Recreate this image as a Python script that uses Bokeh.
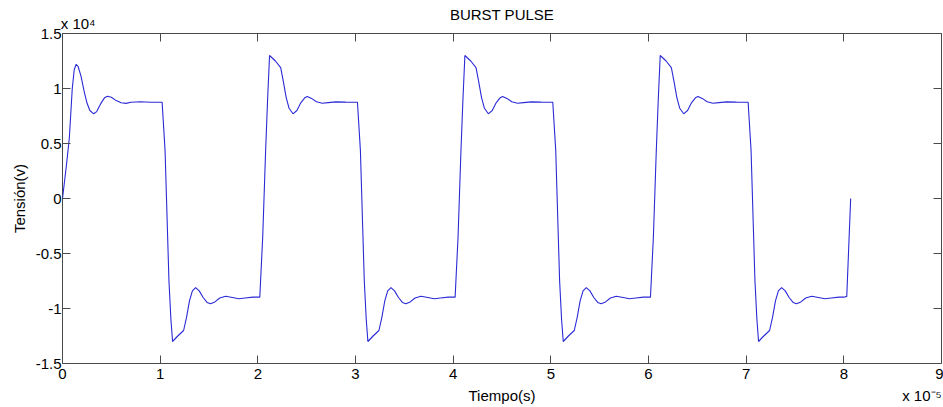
from bokeh.plotting import figure
from bokeh.models import (Range1d, LinearAxis, FixedTicker,
                          ColumnDataSource, CustomJSTickFormatter)
from bokeh.embed import file_html
from bokeh.resources import INLINE

# ---------------- data (time in 1e-5 s, voltage in 1e4 V) ----------------
x_ticks = [0, 1, 2, 3, 4, 5, 6, 7, 8, 9]
y_ticks = [-1.5, -1, -0.5, 0, 0.5, 1, 1.5]

# first (start-up) positive pulse
first_t = [0.00, 0.04, 0.07, 0.10, 0.12, 0.14, 0.16, 0.19, 0.22, 0.25, 0.28,
           0.32, 0.35, 0.39, 0.43, 0.46, 0.50, 0.55, 0.60, 0.65, 0.70, 0.80,
           0.90, 1.00]
first_v = [0.00, 0.30, 0.55, 1.00, 1.17, 1.22, 1.20, 1.11, 0.98, 0.87, 0.80,
           0.77, 0.79, 0.86, 0.915, 0.93, 0.92, 0.89, 0.87, 0.865, 0.875,
           0.88, 0.875, 0.875]

# shape of a negative half-cycle, time measured from its start
fall_dt = [0.02, 0.05, 0.09, 0.11, 0.127, 0.18, 0.24, 0.27, 0.30, 0.33,
           0.363, 0.40, 0.44, 0.48, 0.516, 0.56, 0.61, 0.67, 0.74, 0.806,
           0.87, 0.95, 1.00]
fall_v = [0.875, 0.44, -0.75, -1.10, -1.30, -1.25, -1.20, -1.08, -0.93,
          -0.84, -0.81, -0.84, -0.90, -0.945, -0.957, -0.94, -0.905, -0.888,
          -0.90, -0.912, -0.905, -0.897, -0.897]

# shape of a positive half-cycle, time measured from its start
rise_dt = [0.02, 0.05, 0.08, 0.10, 0.12, 0.18, 0.234, 0.26, 0.29, 0.32,
           0.36, 0.40, 0.44, 0.48, 0.507, 0.55, 0.60, 0.66, 0.72, 0.80,
           0.90, 1.00]
rise_v = [-0.897, -0.35, 0.44, 0.90, 1.30, 1.25, 1.19, 1.07, 0.92, 0.82,
          0.77, 0.80, 0.87, 0.915, 0.927, 0.91, 0.88, 0.866, 0.872, 0.878,
          0.876, 0.875]

fall_starts = [1, 3, 5, 7]
rise_starts = [2, 4, 6]

tail_t = [8.03, 8.07]
tail_v = [-0.89, 0.0]

TITLE = "BURST PULSE"
X_LABEL = "Tiempo(s)"
Y_LABEL = "Tensión(v)"
Y_MULT = "x 10\u2074"          # x 10^4
X_MULT = "x 10\u207b\u2075"    # x 10^-5

# ---------------- assemble series ----------------
segments = [(0.0, first_t, first_v)]
segments += [(s, fall_dt, fall_v) for s in fall_starts]
segments += [(s, rise_dt, rise_v) for s in rise_starts]
segments.sort(key=lambda seg: seg[0])
time_vals, volt_vals = [], []
for start, dts, vs in segments:
    time_vals += [start + d for d in dts]
    volt_vals += list(vs)
time_vals += tail_t
volt_vals += tail_v

src = ColumnDataSource(dict(t=time_vals, v=volt_vals))

FONT = "Liberation Sans"
FS = "15px"
FRAME = "#4a4a4a"

p = figure(width=943, height=407, output_backend="svg", toolbar_location=None,
           x_range=Range1d(0, 9), y_range=Range1d(-1.5, 1.5),
           min_border_left=62, min_border_right=2, min_border_top=33,
           min_border_bottom=44)
p.grid.visible = False
p.outline_line_color = FRAME
p.outline_line_width = 1
p.background_fill_color = "white"
p.border_fill_color = "white"

fmt = CustomJSTickFormatter(code="return tick.toString();")
blank = CustomJSTickFormatter(code="return '';")

def text_style(ax, size=FS):
    ax.major_label_text_font = FONT
    ax.major_label_text_font_size = size
    ax.major_label_text_color = "black"
    ax.axis_label_text_font = FONT
    ax.axis_label_text_font_size = size
    ax.axis_label_text_font_style = "normal"
    ax.axis_label_text_color = "black"

def style_axis(ax, ticks, standoff=3):
    ax.ticker = FixedTicker(ticks=ticks)
    ax.axis_line_color = None
    ax.major_tick_in = 8
    ax.major_tick_out = 0
    ax.major_tick_line_color = FRAME
    ax.minor_tick_line_color = None
    ax.major_label_standoff = standoff
    text_style(ax)

def label_only(ax, ticks, formatter, standoff):
    ax.ticker = FixedTicker(ticks=ticks)
    ax.formatter = formatter
    ax.axis_line_color = None
    ax.major_tick_line_color = None
    ax.minor_tick_line_color = None
    ax.major_tick_in = 0
    ax.major_tick_out = 0
    ax.major_label_standoff = standoff
    text_style(ax)

for ax in p.xaxis:
    style_axis(ax, x_ticks, standoff=5)
    ax.formatter = fmt
    ax.axis_label = None
for ax in p.yaxis:
    style_axis(ax, y_ticks, standoff=1)
    ax.formatter = fmt
    ax.axis_label = Y_LABEL
    ax.axis_label_standoff = 5

# mirrored tick marks on top and right, without labels
top_ax = LinearAxis(axis_label=None)
style_axis(top_ax, x_ticks, standoff=0)
top_ax.formatter = blank
top_ax.major_label_text_font_size = "0px"
p.add_layout(top_ax, "above")

right_ax = LinearAxis(axis_label=None)
style_axis(right_ax, y_ticks, standoff=0)
right_ax.formatter = blank
right_ax.major_label_text_font_size = "0px"
p.add_layout(right_ax, "right")

# row above the frame: x 10^4 multiplier, with the title as its axis label
YMULT_POS = 0.16
mult_ax = LinearAxis(axis_label=TITLE)
label_only(mult_ax, [YMULT_POS],
           CustomJSTickFormatter(args=dict(lab=Y_MULT), code="return lab;"),
           standoff=2)
try:
    mult_ax.axis_label_standoff = -11
except Exception:
    mult_ax.axis_label_standoff = 0
    mult_ax.axis_label_text_font_size = "12px"
p.add_layout(mult_ax, "above")

# row below the tick labels: axis title and x 10^-5 multiplier
XLABEL_POS = 4.5
XMULT_POS = 8.8
lab_ax = LinearAxis(axis_label=None)
label_only(lab_ax, [XLABEL_POS, XMULT_POS],
           CustomJSTickFormatter(args=dict(a=X_LABEL, b=X_MULT, pos=XLABEL_POS),
                                 code="return tick == pos ? a : b;"),
           standoff=5)
p.add_layout(lab_ax, "below")

p.line("t", "v", source=src, line_color="#2a2ad6", line_width=1.1)

open("out.html", "w").write(file_html(p, INLINE))
